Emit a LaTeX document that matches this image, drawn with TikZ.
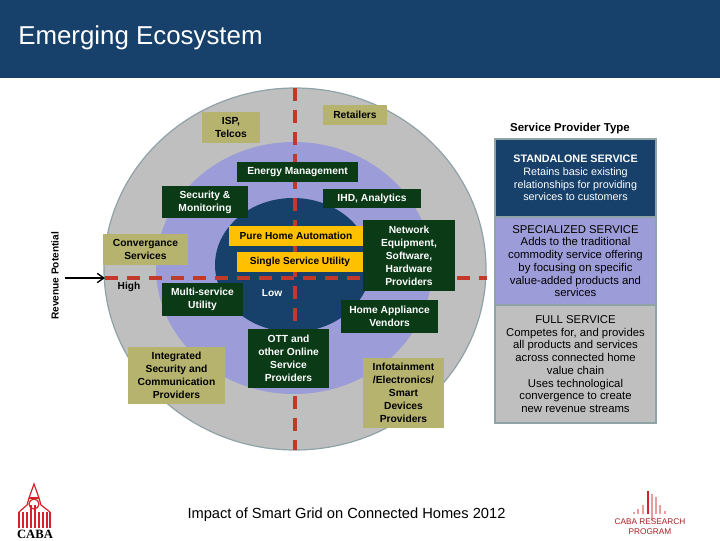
\documentclass[tikz,border=0pt]{standalone}
\usepackage{fontspec}
\usetikzlibrary{arrows.meta}
\setmainfont{Liberation Sans}
\newfontfamily\logofont{Liberation Serif}
\definecolor{navy}{HTML}{17406A}
\definecolor{lilac}{HTML}{9C9CD8}
\definecolor{ringgray}{HTML}{BFBFBF}
\definecolor{edgegray}{HTML}{8FA2A6}
\definecolor{olive}{HTML}{B6B36E}
\definecolor{pine}{HTML}{0B3A17}
\definecolor{amber}{HTML}{FFC000}
\definecolor{dashred}{HTML}{C0392B}
\definecolor{logored}{HTML}{D2232A}
\begin{document}
\begin{tikzpicture}[
    x=0.75pt, y=-0.75pt,
    font=\fontsize{7.9}{9.7}\selectfont,
    size/.style 2 args={minimum width=#1*0.75pt, minimum height=#2*0.75pt},
    box/.style={inner sep=0pt, align=center},
    pinebox/.style={box, fill=pine, text=white, font=\fontsize{7.7}{9.7}\selectfont\bfseries},
    olivebox/.style={box, fill=olive, text=black, font=\fontsize{7.7}{9.7}\selectfont\bfseries},
    amberbox/.style={box, fill=amber, text=black, font=\fontsize{7.6}{9.7}\selectfont\bfseries},
    panel/.style={box, draw=edgegray, line width=1.2pt, font=\fontsize{8.5}{9.55}\selectfont},
    axislabel/.style={inner sep=0pt, font=\fontsize{7.6}{9}\selectfont\bfseries},
    axis/.style={draw=dashred, line width=3pt, dash pattern=on 10pt off 6.5pt},
    ring/.style={draw=edgegray, line width=0.9pt},
    bar/.style={draw=logored, line width=0.9pt},
    softbar/.style={draw=logored!45, line width=1.4pt},
  ]
  \useasboundingbox (0,0) rectangle (720,540);
  % banner
  \fill[navy] (0,0) rectangle (720,78);
  \node[anchor=west, inner sep=0pt, text=white, font=\fontsize{19.4}{21}\selectfont] (title) at (18,38) {Emerging Ecosystem};
  % rings
  \draw[ring, fill=ringgray] (295,269) ellipse [x radius=191, y radius=181];
  \fill[lilac] (294,268) ellipse [x radius=138, y radius=126];
  \fill[navy] (293,265) ellipse [x radius=78, y radius=67];
  % axes
  \coordinate (htop) at (295,88);
  \coordinate (hbot) at (295,450);
  \coordinate (vleft) at (105,278);
  \coordinate (vright) at (487,278);
  \coordinate (arrowstart) at (65,278);
  \draw[axis] (htop) -- (hbot);
  \draw[axis] (vleft) -- (vright);
  \draw[-{Straight Barb[length=5pt,width=7pt]}, line width=1pt] (arrowstart) -- (vleft);
  \node[axislabel, rotate=90] (revenue) at (55,276) {Revenue Potential};
  \node[axislabel] (high) at (129,287) {High};
  \node[axislabel, text=white] (low) at (272,293) {Low};
  % outer ring boxes
  \node[olivebox, size={58}{31}] (isp) at (231,127.5) {ISP,\\Telcos};
  \node[olivebox, size={64}{20}] (retail) at (355,115) {Retailers};
  \node[olivebox, size={85}{31}] (conv) at (145.5,249.5) {Convergance\\Services};
  \node[olivebox, size={97}{57}] (integ) at (176.5,375.5) {Integrated\\Security and\\Communication\\Providers};
  \node[olivebox, size={81}{70}] (info) at (403.5,393) {Infotainment\\/Electronics/\\Smart\\Devices\\Providers};
  % middle ring boxes
  \node[pinebox, size={121}{20}] (energy) at (297.5,172) {Energy Management};
  \node[pinebox, size={86}{32}] (secur) at (205,202) {Security \&\\Monitoring};
  \node[pinebox, size={98}{19}] (ihd) at (372,198.5) {IHD, Analytics};
  \node[pinebox, size={92}{71}] (net) at (409,255.5) {Network\\Equipment,\\Software,\\Hardware\\Providers};
  \node[pinebox, size={81}{33}] (multi) at (202.5,299.5) {Multi-service\\Utility};
  \node[pinebox, size={97}{33}] (appl) at (389.5,316.5) {Home Appliance\\Vendors};
  \node[pinebox, size={81}{59}] (ott) at (288.5,358.5) {OTT and\\other Online\\Service\\Providers};
  % inner ring boxes
  \node[amberbox, size={134}{20}] (pure) at (296,236) {Pure Home Automation};
  \node[amberbox, size={126}{20}] (single) at (300,262) {Single Service Utility};
  % legend
  \node[inner sep=0pt, font=\fontsize{8.6}{9.7}\selectfont\bfseries] (legend) at (570,129) {Service Provider Type};
  \node[panel, size={161}{78}, fill=navy, text=white, font=\fontsize{8.1}{9.55}\selectfont] (standalone) at (575.5,178)
    {{\bfseries STANDALONE SERVICE}\\Retains basic existing\\relationships for providing\\services to customers};
  \node[panel, size={161}{88}, fill=lilac] (special) at (575.5,261)
    {SPECIALIZED SERVICE\\Adds to the traditional\\commodity service offering\\by focusing on  specific\\value-added products and\\services};
  \node[panel, size={161}{118}, fill=ringgray] (full) at (575.5,364)
    {FULL SERVICE\\Competes for, and provides\\all products and services\\across connected home\\value chain\\Uses technological\\convergence to create\\new revenue streams};
  % footer
  \node[inner sep=0pt, font=\fontsize{11}{13}\selectfont] (footer) at (346.5,515) {Impact of Smart Grid on Connected Homes 2012};
  % left logo
  \foreach \xa in {19,23,27,39,43,47,50}
    \draw[bar] (\xa,512) -- (\xa,528);
  \foreach \xa in {31,35}
    \draw[bar] (\xa,505) -- (\xa,528);
  \draw[bar] (19,512) -- (27,505) -- (29,498) -- (34,484) -- (39,498) -- (41,505) -- (50,512);
  \draw[bar] (34,504) circle [radius=5];
  \draw[bar] (29,498) -- (39,498);
  \node[inner sep=0pt, font=\fontsize{9.5}{10}\selectfont\bfseries\logofont] (caba) at (35,534) {CABA};
  % right logo
  \foreach \xa/\ya in {634/512,638/509,643/505,656/497,660/505,665/511}
    \draw[softbar] (\xa,\ya) -- (\xa,514);
  \draw[bar, line width=2pt] (648,491) -- (648,514);
  \draw[softbar, line width=2pt] (652,494) -- (652,520);
  \node[inner sep=0pt, text=logored!80!black, font=\fontsize{6.2}{7.4}\selectfont, align=center] (program) at (650,527) {CABA RESEARCH\\PROGRAM};
\end{tikzpicture}
\end{document}
